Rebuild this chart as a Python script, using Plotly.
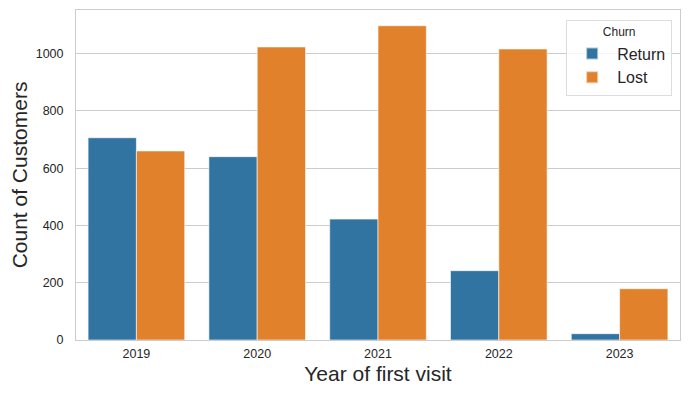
import plotly.graph_objects as go

years = ["2019", "2020", "2021", "2022", "2023"]
return_counts = [706, 640, 422, 242, 22]
lost_counts = [660, 1023, 1097, 1016, 179]
series_names = ["Return", "Lost"]
series_colors = ["#3274a1", "#e1812c"]
y_ticks = [0, 200, 400, 600, 800, 1000]

font_family = "Liberation Sans, Arial, sans-serif"
text_color = "#262626"
grid_color = "#cccccc"

fig = go.Figure()
for name, vals, col in zip(series_names, [return_counts, lost_counts], series_colors):
    fig.add_trace(go.Bar(
        x=years, y=vals, name=name,
        marker=dict(color=col, line=dict(color="rgba(255,255,255,0.6)", width=1)),
    ))

# page body has an 8px margin, so the figure is drawn 8px in from the top-left
fig.update_layout(
    width=682, height=389,
    margin=dict(l=68, r=10, t=2, b=57, autoexpand=False),
    paper_bgcolor="white", plot_bgcolor="white",
    barmode="group", bargap=0.2, bargroupgap=0,
    font=dict(family=font_family, color=text_color, size=13),
    showlegend=True,
    legend=dict(
        title=dict(text="Churn", font=dict(size=12, color=text_color), side="top center"),
        font=dict(size=16, color=text_color),
        x=0.987, xanchor="right", y=0.97, yanchor="top",
        bgcolor="rgba(255,255,255,0.8)", bordercolor="#dddddd", borderwidth=1,
        itemsizing="constant", itemwidth=40,
    ),
)
fig.update_xaxes(
    type="category", range=[-0.5, 4.5], automargin=False,
    showgrid=False, showline=True, linecolor=grid_color, linewidth=1, mirror=True,
    ticks="", tickfont=dict(size=12.5, color=text_color),
    ticklabelstandoff=2,
    title=dict(text="Year of first visit", font=dict(size=21, color=text_color), standoff=6),
)
fig.update_yaxes(
    range=[0, 1152], tickvals=y_ticks, automargin=False,
    showgrid=True, gridcolor=grid_color, gridwidth=1,
    showline=True, linecolor=grid_color, linewidth=1, mirror=True,
    zeroline=False,
    ticks="", tickfont=dict(size=12.5, color=text_color),
    ticklabelstandoff=9,
    title=dict(text="Count of Customers", font=dict(size=21, color=text_color), standoff=16),
)

fig.write_html("out.html")
